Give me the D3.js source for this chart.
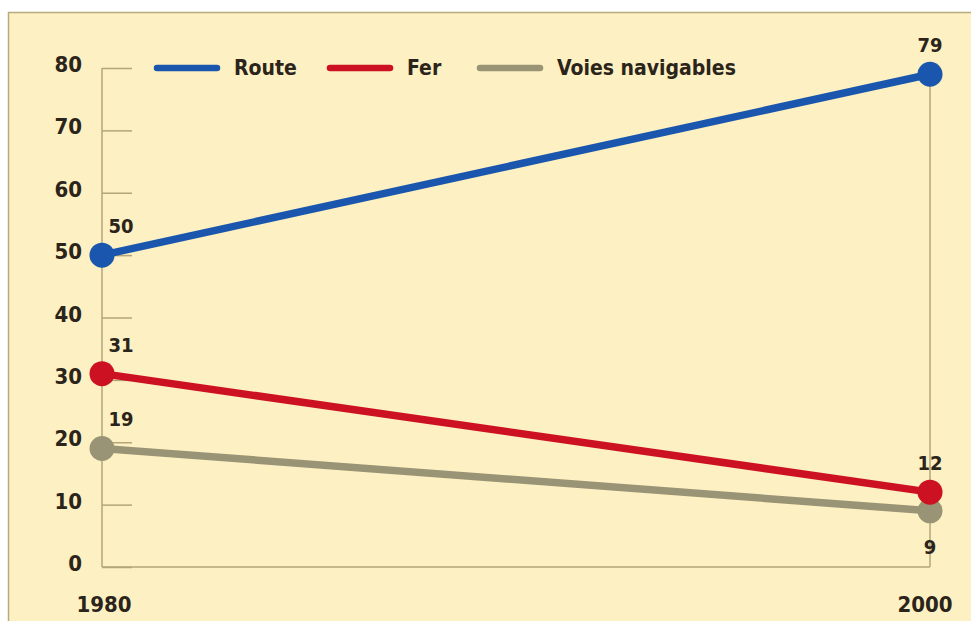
<!DOCTYPE html>
<html>
<head>
<meta charset="utf-8">
<script src="https://d3js.org/d3.v7.min.js"></script>
<style>
  body { margin: 0; background: #fff; }
  text { font-family: "DejaVu Sans", sans-serif; font-stretch: condensed; font-weight: bold; fill: #2b241a; }
</style>
</head>
<body>
<svg id="chart" width="971" height="621"></svg>
<script>
const years = [1980, 2000];
const route = [50, 79];
const fer = [31, 12];
const voies = [19, 9];
const yTicks = [0, 10, 20, 30, 40, 50, 60, 70, 80];

const series = [
  { name: "Route", values: route, color: "#1a56ad", labelPos: ["above", "above"] },
  { name: "Fer", values: fer, color: "#cc1222", labelPos: ["above", "above"] },
  { name: "Voies navigables", values: voies, color: "#9a9476", labelPos: ["above", "below"] }
];

const svg = d3.select("#chart");
const W = 971, H = 621;

// panel
svg.append("rect")
  .attr("x", 8.5).attr("y", 12.5)
  .attr("width", W).attr("height", H)
  .attr("fill", "#fdf0c2")
  .attr("stroke", "#b8aa7e")
  .attr("stroke-width", 1.5);

const x = d3.scaleLinear().domain([1980, 2000]).range([102, 930]);
const y = d3.scaleLinear().domain([0, 80]).range([567, 68]);

const axisColor = "#b3a67a";

// left axis, ticks pointing right
const yAxis = svg.append("g")
  .attr("transform", "translate(" + x(1980) + ",0)")
  .call(d3.axisRight(y).tickValues(yTicks).tickSize(30).tickFormat(""));
yAxis.select(".domain").remove();
yAxis.selectAll(".tick line").attr("stroke", axisColor).attr("stroke-width", 1.5);

svg.append("line")
  .attr("x1", x(1980)).attr("x2", x(1980))
  .attr("y1", y(80)).attr("y2", y(0))
  .attr("stroke", axisColor).attr("stroke-width", 1.5);

// bottom line and right line
svg.append("line")
  .attr("x1", x(1980)).attr("x2", x(2000))
  .attr("y1", y(0)).attr("y2", y(0))
  .attr("stroke", axisColor).attr("stroke-width", 1.5);
svg.append("line")
  .attr("x1", x(2000)).attr("x2", x(2000))
  .attr("y1", y(route[1])).attr("y2", y(0))
  .attr("stroke", axisColor).attr("stroke-width", 1.5);

// tick labels
svg.selectAll(".ylab").data(yTicks).enter().append("text")
  .attr("class", "ylab")
  .attr("x", 82)
  .attr("y", d => y(d) + 4)
  .attr("text-anchor", "end")
  .attr("font-size", 22)
  .text(d => d);

svg.selectAll(".xlab").data(years).enter().append("text")
  .attr("class", "xlab")
  .attr("x", (d, i) => x(d) + (i === 0 ? 2 : -5))
  .attr("y", 612)
  .attr("text-anchor", "middle")
  .attr("font-size", 22)
  .text(d => d);

// lines
const line = d3.line().x((d, i) => x(years[i])).y(d => y(d));

series.forEach(s => {
  svg.append("path")
    .datum(s.values)
    .attr("d", line)
    .attr("fill", "none")
    .attr("stroke", s.color)
    .attr("stroke-width", 7.5);
});

series.slice().reverse().forEach(s => {
  svg.selectAll(null).data(s.values).enter().append("circle")
    .attr("cx", (d, i) => x(years[i]))
    .attr("cy", d => y(d))
    .attr("r", 12.5)
    .attr("fill", s.color);
});

// value labels
series.forEach(s => {
  s.values.forEach((v, i) => {
    const first = i === 0;
    const below = s.labelPos[i] === "below";
    svg.append("text")
      .attr("x", first ? x(years[i]) + 19 : x(years[i]))
      .attr("y", below ? y(v) + 43 : y(v) - 22)
      .attr("text-anchor", "middle")
      .attr("font-size", 20)
      .text(v);
  });
});

// legend
const legendX = [157, 330, 480];
series.forEach((s, i) => {
  const g = svg.append("g").attr("transform", "translate(" + legendX[i] + ",68)");
  g.append("line")
    .attr("x1", 0).attr("x2", 60)
    .attr("stroke", s.color)
    .attr("stroke-width", 6.5)
    .attr("stroke-linecap", "round");
  g.append("text")
    .attr("x", 77).attr("y", 7)
    .attr("font-size", 21)
    .text(s.name);
});
</script>
</body>
</html>
